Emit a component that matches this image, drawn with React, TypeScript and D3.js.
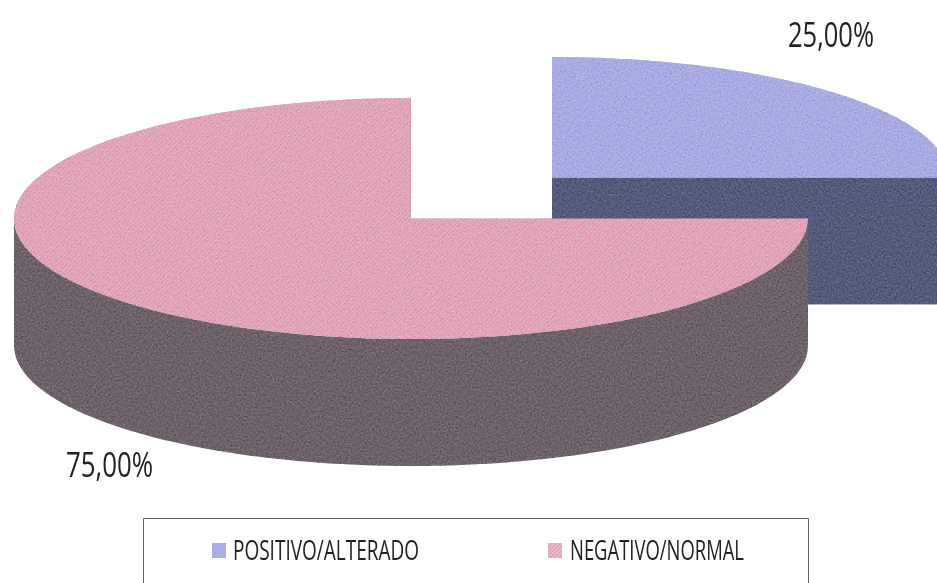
import React from "react";
import * as d3 from "d3";

const categories = ["POSITIVO/ALTERADO", "NEGATIVO/NORMAL"];
const shares = [25, 75];
const shareLabels = ["25,00%", "75,00%"];

const WIDTH = 937;
const HEIGHT = 583;
const RX = 397;
const RY = 120.5;
const DEPTH = 127;

const pieAngles = d3.pie<number>().sort(null)(shares);

// Slice centres: the blue slice is pulled out up and to the right.
const centres = [
  { x: 552, y: 177.5 },
  { x: 411, y: 218.5 },
];

const topColours = ["#a9ade3", "url(#pinkHatch)"];
const sideColours = ["#545b7c", "#6e636a"];
const swatches = ["#a9ade3", "url(#pinkHatchSmall)"];

// Point on the ellipse for a d3.pie angle (0 = north, clockwise).
const rim = (a: number, cx: number, cy: number): [number, number] => [
  cx + RX * Math.sin(a),
  cy - RY * Math.cos(a),
];

function topPath(start: number, end: number, cx: number, cy: number) {
  const n = 160;
  const scale = d3.scaleLinear().domain([0, n]).range([start, end]);
  const pts = d3.range(n + 1).map((i) => rim(scale(i), cx, cy));
  return d3.line()([[cx, cy], ...pts]) + "Z";
}

// Outer wall: only the part of the rim facing the viewer (east through south to west).
function wallPath(start: number, end: number, cx: number, cy: number) {
  const from = Math.max(start, Math.PI / 2);
  const to = Math.min(end, (3 * Math.PI) / 2);
  const n = 160;
  const scale = d3.scaleLinear().domain([0, n]).range([from, to]);
  const upper = d3.range(n + 1).map((i) => rim(scale(i), cx, cy));
  const lower = upper.map(([x, y]) => [x, y + DEPTH] as [number, number]).reverse();
  return d3.line()([...upper, ...lower]) + "Z";
}

// Cut face of the blue slice, visible below its straight front edge.
function cutFace(cx: number, cy: number) {
  return d3.line()([
    [cx, cy],
    [cx + RX, cy],
    [cx + RX, cy + DEPTH],
    [cx, cy + DEPTH],
  ]) + "Z";
}

const legendSwatchX = [212, 548];
const legendTextX = [233, 570];
const legendTextW = [186, 174];

const textFont = "'Open Sans', 'Liberation Sans', sans-serif";

export default function App() {
  const [blue, pink] = pieAngles;
  return (
    <svg
      width={WIDTH}
      height={HEIGHT}
      viewBox={`0 0 ${WIDTH} ${HEIGHT}`}
      style={{ position: "fixed", left: 0, top: 0, background: "#fff" }}
    >
      <defs>
        {/* Printed-paper mottling laid over the flat slice colours */}
        <filter id="grainFine" x="0" y="0" width="100%" height="100%" colorInterpolationFilters="sRGB">
          <feTurbulence type="fractalNoise" baseFrequency="0.55" numOctaves="2" seed="4" result="n" />
          <feColorMatrix
            in="n"
            type="matrix"
            values="0.33 0.33 0.33 0 0  0.33 0.33 0.33 0 0  0.33 0.33 0.33 0 0  0 0 0 0 1"
            result="g"
          />
          <feBlend in="g" in2="SourceGraphic" mode="soft-light" result="b" />
          <feComposite in="b" in2="SourceAlpha" operator="in" result="c" />
          <feGaussianBlur in="c" stdDeviation="0.4" />
        </filter>
        <filter id="textSoft" x="-5%" y="-20%" width="110%" height="140%">
          <feGaussianBlur stdDeviation="0.4" />
        </filter>
        <pattern id="pinkHatch" width="3.2" height="3.2" patternUnits="userSpaceOnUse" patternTransform="rotate(45)">
          <rect width="3.2" height="3.2" fill="#eca6b8" />
          <rect width="1.1" height="3.2" fill="#cba3bc" />
        </pattern>
        <pattern id="pinkHatchSmall" width="3" height="3" patternUnits="userSpaceOnUse" patternTransform="rotate(45)">
          <rect width="3" height="3" fill="#f0bccb" />
          <rect width="1.2" height="3" fill="#d39db6" />
        </pattern>
      </defs>

      <g filter="url(#grainFine)">
        {/* Blue slice first, the larger pink slice overlaps it */}
        <path d={cutFace(centres[0].x, centres[0].y)} fill={sideColours[0]} />
        <path
          d={topPath(blue.startAngle, blue.endAngle, centres[0].x, centres[0].y)}
          fill={topColours[0]}
        />
        <path
          d={wallPath(pink.startAngle, pink.endAngle, centres[1].x, centres[1].y)}
          fill={sideColours[1]}
        />
        <path
          d={topPath(pink.startAngle, pink.endAngle, centres[1].x, centres[1].y)}
          fill={topColours[1]}
        />
      </g>

      <g fontFamily={textFont} fontWeight={400} fill="#222" fontSize={35} filter="url(#textSoft)">
        <text x={788} y={47} textLength={86} lengthAdjust="spacingAndGlyphs">
          {shareLabels[0]}
        </text>
        <text x={66} y={477} textLength={87} lengthAdjust="spacingAndGlyphs">
          {shareLabels[1]}
        </text>
      </g>

      {/* Legend frame runs off the lower edge of the page */}
      <path d="M143.5,583V518.5H808.5V583" fill="none" stroke="#666" strokeWidth={1} />
      {categories.map((c, i) => (
        <g key={c}>
          <rect x={legendSwatchX[i]} y={543} width={14} height={15} fill={swatches[i]} />
          <text
            x={legendTextX[i]}
            y={560}
            fontFamily={textFont}
            fontWeight={400}
            fontSize={28}
            fill="#222"
            textLength={legendTextW[i]}
            lengthAdjust="spacingAndGlyphs"
            filter="url(#textSoft)"
          >
            {c}
          </text>
        </g>
      ))}
    </svg>
  );
}
